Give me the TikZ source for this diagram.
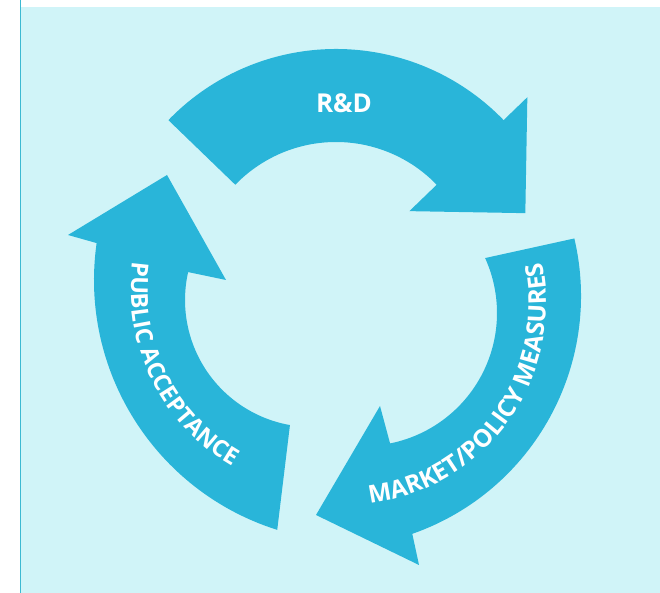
\documentclass[tikz,border=0pt]{standalone}
\usepackage{fontspec}
\setmainfont{Open Sans}
\usetikzlibrary{calc,decorations.text}
\definecolor{bgcyan}{RGB}{208,244,248}
\definecolor{arrowblue}{RGB}{41,181,217}
\definecolor{edgeblue}{RGB}{60,185,210}
\tikzset{
  arrowshape/.style={fill=arrowblue},
  lbl/.style={text=white,font=\bfseries\fontsize{26}{26}\selectfont,inner sep=0pt}
}
\begin{document}
\begin{tikzpicture}[x=1pt,y=1pt]
\useasboundingbox (0,0) rectangle (660,593);
\fill[white] (0,0) rectangle (660,593);
\fill[bgcyan] (21,0) rectangle (660,586);
\draw[edgeblue, line width=1.6pt] (20.5,0) -- (20.5,593);

% centres of the arcs
\coordinate (Rc) at (336,311);
\coordinate (Po) at (356,313);
\coordinate (Pi) at (312,293);
\coordinate (Mo) at (329,297);
\coordinate (Mi) at (364,280);
\coordinate (Pt) at (334,303);
\coordinate (Mt) at (346.5,288.5);

% head points
\coordinate (paR) at (226,313);
\coordinate (paT) at (167,418);
\coordinate (paL) at (68,358);
\coordinate (mkU) at (380,187);
\coordinate (mkT) at (316,78);
\coordinate (mkL) at (419,28);

% R&D arrow
\fill[arrowshape] ($(Rc)+(136:233)$) arc[start angle=136, end angle=44, radius=233]
  -- ($(Rc)+(44:266)$) -- ($(Rc)+(44:184)+(-46:82)$) -- ($(Rc)+(44:102)$) -- ($(Rc)+(44:140)$)
  arc[start angle=44, end angle=136, radius=140] -- cycle;

% Public acceptance arrow
\fill[arrowshape] ($(Pi)+(260:127)$) arc[start angle=260, end angle=167.3, radius=127]
  -- (paR) -- (paT) -- (paL) -- ($(Po)+(171.9:262)$)
  arc[start angle=171.9, end angle=252.5, radius=262] -- cycle;

% Market/policy arrow
\fill[arrowshape] ($(Mo)+(13.2:252)$) arc[start angle=13.2, end angle=-70.7, radius=252]
  -- (mkL) -- (mkT) -- (mkU) -- ($(Mi)+(-78.7:133)$)
  arc[start angle=-78.7, end angle=24.4, radius=133] -- cycle;

% labels
\node[lbl] (rd) at (344,490) {R\&D};
\path[decorate, decoration={text along path, text align=center,
  text={|\color{white}\bfseries\fontsize{23.5}{23.5}\selectfont|PUBLIC ACCEPTANCE}}]
  ($(Pt)+(149:203)$) arc[start angle=149, end angle=263, radius=203];
\path[decorate, decoration={text along path, text align=center,
  text={|\color{white}\bfseries\fontsize{24.5}{24.5}\selectfont|MARKET/POLICY MEASURES}}]
  ($(Mt)+(-90:200)$) arc[start angle=-90, end angle=19, radius=200];
\end{tikzpicture}
\end{document}
